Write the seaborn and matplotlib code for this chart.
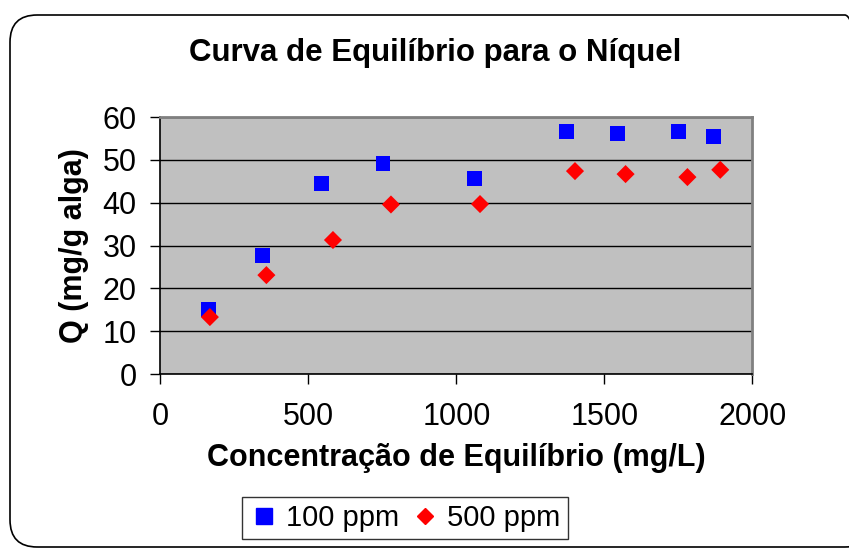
import matplotlib
matplotlib.use('Agg')
import matplotlib.pyplot as plt
from matplotlib.patches import FancyBboxPatch
import pandas as pd
import seaborn as sns

# valores
conc_100 = [162, 345, 544, 752, 1062, 1372, 1544, 1750, 1869]
q_100 = [15.0, 27.6, 44.6, 49.1, 45.7, 56.7, 56.1, 56.7, 55.4]
conc_500 = [167, 358, 583, 779, 1080, 1401, 1572, 1781, 1892]
q_500 = [13.3, 23.1, 31.3, 39.6, 39.7, 47.4, 46.7, 46.0, 47.7]
series = ['100 ppm', '500 ppm']

df = pd.concat([
    pd.DataFrame({'conc': conc_100, 'q': q_100, 'serie': series[0]}),
    pd.DataFrame({'conc': conc_500, 'q': q_500, 'serie': series[1]}),
])

sns.set_style('white')
plt.rcParams['font.family'] = ['Liberation Sans', 'DejaVu Sans']
for k in ['text.color', 'axes.labelcolor', 'xtick.color', 'ytick.color']:
    plt.rcParams[k] = 'black'

fig = plt.figure(figsize=(8.49, 5.5), dpi=100)
ax = fig.add_axes([0.189, 0.32, 0.697, 0.467])

# moldura arredondada
frame = FancyBboxPatch((10 / 849, 3 / 550), 862 / 849, 532 / 550,
                       boxstyle='round,pad=0,rounding_size=0.032',
                       transform=fig.transFigure, fill=False,
                       edgecolor='black', linewidth=1.2, zorder=0,
                       mutation_aspect=849 / 550)
fig.patches.append(frame)

ax.set_facecolor('#C0C0C0')
sns.scatterplot(data=df, x='conc', y='q', hue='serie', style='serie',
                palette={'100 ppm': '#0000FF', '500 ppm': '#FF0000'},
                markers={'100 ppm': 's', '500 ppm': 'D'},
                size='serie', sizes={'100 ppm': 115, '500 ppm': 85},
                edgecolor='none', ax=ax, legend=False, zorder=3)

ax.set_xlim(0, 2000)
ax.set_ylim(0, 60)
ax.set_xticks([0, 500, 1000, 1500, 2000])
ax.set_yticks([0, 10, 20, 30, 40, 50, 60])
ax.yaxis.grid(True, color='black', linewidth=1)
ax.set_axisbelow(True)
ax.tick_params(axis='both', direction='out', length=7, width=1,
               labelsize=22, color='black', left=True, bottom=True)
ax.tick_params(axis='x', pad=13)
ax.tick_params(axis='y', pad=10)
for side in ['left', 'bottom']:
    ax.spines[side].set_color('black')
    ax.spines[side].set_linewidth(1.2)
for side in ['top', 'right']:
    ax.spines[side].set_color('#808080')
    ax.spines[side].set_linewidth(2)

ax.set_xlabel('Concentração de Equilíbrio (mg/L)', fontsize=22,
              fontweight='bold', labelpad=8)
ax.set_ylabel('Q (mg/g alga)', fontsize=22, fontweight='bold', labelpad=10)
fig.text(435 / 849, 1 - 53 / 550, 'Curva de Equilíbrio para o Níquel', ha='center',
         va='center', fontsize=22.5, fontweight='bold')

handles = [
    plt.Line2D([], [], marker='s', color='#0000FF', linestyle='none', markersize=11),
    plt.Line2D([], [], marker='D', color='#FF0000', linestyle='none', markersize=8),
]
leg = fig.legend(handles, series, loc='center', bbox_to_anchor=(405 / 849, 1 - 518 / 550),
                 ncol=2, fontsize=21, frameon=True, fancybox=False,
                 edgecolor='black', handletextpad=0.25, columnspacing=0.4,
                 handlelength=1.0, borderpad=0.25, borderaxespad=0)
leg.get_frame().set_linewidth(1)

fig.savefig('out.png', dpi=100)
